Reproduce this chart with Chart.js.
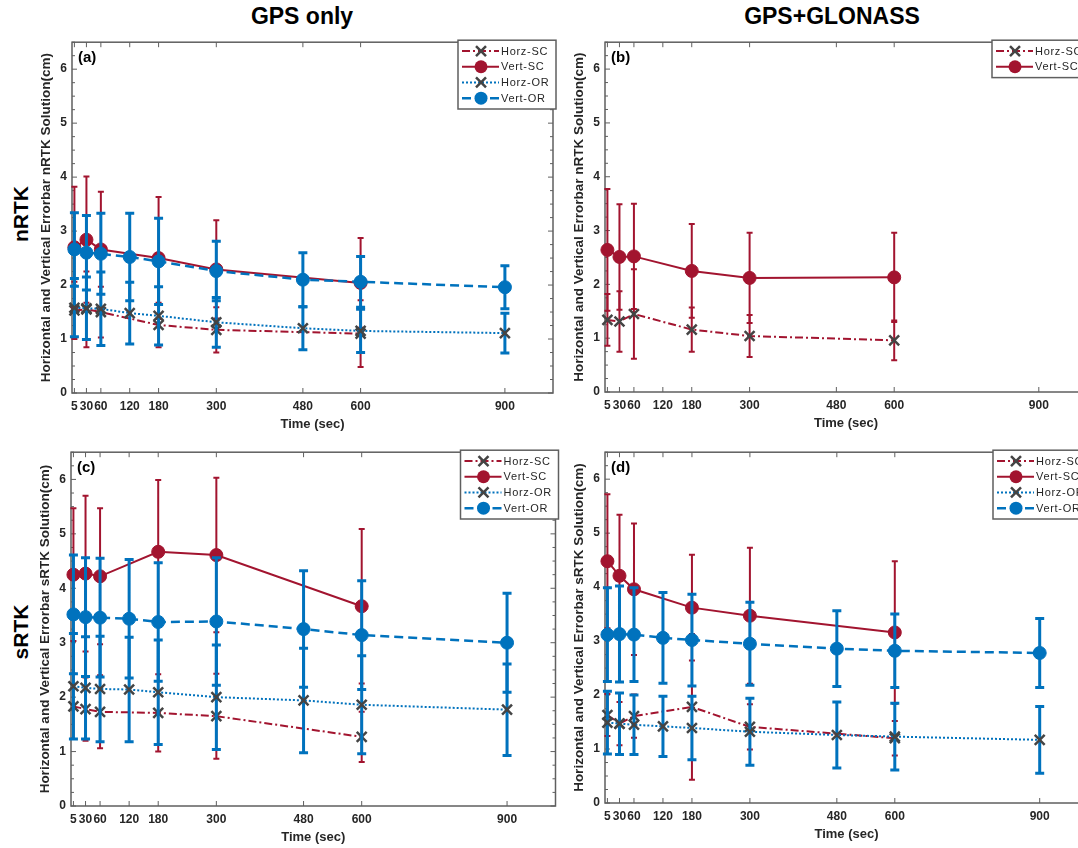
<!DOCTYPE html>
<html>
<head>
<meta charset="utf-8">
<script src="https://cdn.jsdelivr.net/npm/chart.js@4.4.1/dist/chart.umd.min.js"></script>
<style>
  html, body { margin: 0; padding: 0; width: 1078px; height: 848px; overflow: hidden; background: #fff; }
  canvas { position: absolute; }
  .col-title {
    position: absolute; transform: translateX(-50%); white-space: nowrap;
    font-family: "Liberation Sans Narrow", "Liberation Sans", Arial, sans-serif;
    font-weight: bold; font-size: 23px; color: #000;
  }
  .row-title {
    position: absolute; transform: translate(-50%, -50%) rotate(-90deg); white-space: nowrap;
    font-family: "Liberation Sans", Arial, sans-serif; font-weight: bold; font-size: 21px; color: #000;
  }
</style>
</head>
<body>
<div class="col-title" style="left:302px; top:3px;">GPS only</div>
<div class="col-title" style="left:832px; top:3px;">GPS+GLONASS</div>
<div class="row-title" style="left:21px; top:214px;">nRTK</div>
<div class="row-title" style="left:21px; top:632px;">sRTK</div>

<canvas id="chartA" width="565" height="415" style="left:0px; top:30px;"></canvas>
<canvas id="chartB" width="565" height="415" style="left:540px; top:30px;"></canvas>
<canvas id="chartC" width="565" height="415" style="left:0px; top:440px;"></canvas>
<canvas id="chartD" width="565" height="415" style="left:540px; top:440px;"></canvas>

<script>
// 观测时长 (sec)
const TIMES_SC = [5, 30, 60, 180, 300, 600];
const TIMES_OR = [5, 30, 60, 120, 180, 300, 480, 600, 900];
const X_TICKS = [5, 30, 60, 120, 180, 300, 480, 600, 900];
const Y_TICKS = [0, 1, 2, 3, 4, 5, 6];

// (a) nRTK, GPS only
const A_HORZ_SC = [1.53, 1.55, 1.50, 1.26, 1.17, 1.10];
const A_HORZ_SC_ERR = [0.53, 0.70, 0.47, 0.41, 0.42, 0.62];
const A_VERT_SC = [2.70, 2.84, 2.66, 2.50, 2.29, 2.04];
const A_VERT_SC_ERR = [1.12, 1.17, 1.07, 1.13, 0.91, 0.83];
const A_HORZ_OR = [1.58, 1.57, 1.56, 1.48, 1.43, 1.31, 1.20, 1.15, 1.11];
const A_HORZ_OR_ERR = [0.54, 0.58, 0.68, 0.57, 0.54, 0.46, 0.40, 0.40, 0.37];
const A_VERT_OR = [2.66, 2.60, 2.58, 2.52, 2.44, 2.26, 2.10, 2.06, 1.96];
const A_VERT_OR_ERR = [0.68, 0.69, 0.75, 0.81, 0.80, 0.55, 0.50, 0.47, 0.40];

// (b) nRTK, GPS+GLONASS
const B_HORZ_SC = [1.34, 1.31, 1.45, 1.16, 1.04, 0.96];
const B_HORZ_SC_ERR = [0.48, 0.56, 0.83, 0.41, 0.39, 0.37];
const B_VERT_SC = [2.64, 2.51, 2.52, 2.25, 2.12, 2.13];
const B_VERT_SC_ERR = [1.13, 0.98, 0.98, 0.87, 0.84, 0.83];

// (c) sRTK, GPS only
const C_HORZ_SC = [1.83, 1.78, 1.73, 1.71, 1.65, 1.27];
const C_HORZ_SC_ERR = [0.60, 0.58, 0.67, 0.71, 0.78, 0.46];
const C_VERT_SC = [4.25, 4.27, 4.22, 4.67, 4.61, 3.67];
const C_VERT_SC_ERR = [1.22, 1.43, 1.25, 1.32, 1.42, 1.42];
const C_HORZ_OR = [2.20, 2.17, 2.15, 2.14, 2.09, 2.00, 1.94, 1.86, 1.77];
const C_HORZ_OR_ERR = [0.97, 0.94, 0.97, 0.96, 0.96, 0.96, 0.96, 0.90, 0.84];
const C_VERT_OR = [3.52, 3.47, 3.46, 3.44, 3.38, 3.39, 3.25, 3.14, 3.00];
const C_VERT_OR_ERR = [1.09, 1.09, 1.09, 1.09, 1.09, 1.17, 1.07, 1.00, 0.91];

// (d) sRTK, GPS+GLONASS
const D_HORZ_SC = [1.63, 1.47, 1.61, 1.78, 1.41, 1.20];
const D_HORZ_SC_ERR = [0.39, 0.40, 0.40, 1.35, 0.42, 0.32];
const D_VERT_SC = [4.48, 4.21, 3.96, 3.62, 3.47, 3.16];
const D_VERT_SC_ERR = [1.24, 1.13, 1.22, 0.98, 1.26, 1.32];
const D_HORZ_OR = [1.49, 1.47, 1.45, 1.42, 1.39, 1.32, 1.26, 1.23, 1.17];
const D_HORZ_OR_ERR = [0.58, 0.57, 0.55, 0.56, 0.59, 0.62, 0.61, 0.62, 0.62];
const D_VERT_OR = [3.12, 3.13, 3.12, 3.06, 3.02, 2.95, 2.86, 2.82, 2.78];
const D_VERT_OR_ERR = [0.87, 0.89, 0.87, 0.84, 0.85, 0.77, 0.70, 0.68, 0.64];

const RED = '#A2142F';
const BLUE = '#0072BD';
const MARKER_GRAY = '#444444';
const AXIS_COLOR = '#5f5f5f';
const TEXT_COLOR = '#262626';
const FONT_FAMILY = '"Liberation Sans", Arial, sans-serif';

const SERIES_STYLE = {
    'Horz-SC': { color: RED,  dash: [8, 3, 2, 3], width: 2,   marker: 'x', barWidth: 2,   cap: 3 },
    'Vert-SC': { color: RED,  dash: [],           width: 2,   marker: 'o', barWidth: 2,   cap: 3 },
    'Horz-OR': { color: BLUE, dash: [2, 2],       width: 2,   marker: 'x', barWidth: 3,   cap: 4.5 },
    'Vert-OR': { color: BLUE, dash: [9, 5],       width: 2.5, marker: 'o', barWidth: 3,   cap: 4.5 }
};

function makeDataset(label, times, values, errors, order) {
    const s = SERIES_STYLE[label];
    const isX = s.marker === 'x';
    return {
        label: label,
        data: times.map((t, i) => ({ x: t, y: values[i] })),
        errors: errors,
        borderColor: s.color,
        borderWidth: s.width,
        borderDash: s.dash,
        pointStyle: isX ? 'crossRot' : 'circle',
        pointRadius: isX ? 7 : 6.5,
        pointBorderWidth: isX ? 2.5 : 1,
        pointBorderColor: isX ? MARKER_GRAY : s.color,
        pointBackgroundColor: s.color,
        tension: 0,
        fill: false,
        clip: false,
        order: order
    };
}

// 误差棒：每个数据集绘制之前画，使标记压在误差棒上面
const errorBarPlugin = {
    id: 'errorBars',
    beforeDatasetDraw(chart, args) {
        const ds = chart.data.datasets[args.index];
        if (!ds.errors) return;
        const s = SERIES_STYLE[ds.label];
        const { ctx } = chart;
        const x = chart.scales.x, y = chart.scales.y;
        ctx.save();
        ctx.strokeStyle = s.color;
        ctx.lineWidth = s.barWidth;
        ctx.setLineDash([]);
        ctx.beginPath();
        ds.data.forEach((p, i) => {
            const px = x.getPixelForValue(p.x);
            const top = y.getPixelForValue(p.y + ds.errors[i]);
            const bot = y.getPixelForValue(p.y - ds.errors[i]);
            ctx.moveTo(px, top); ctx.lineTo(px, bot);
            ctx.moveTo(px - s.cap, top); ctx.lineTo(px + s.cap, top);
            ctx.moveTo(px - s.cap, bot); ctx.lineTo(px + s.cap, bot);
        });
        ctx.stroke();
        ctx.restore();
    }
};

// MATLAB 风格的坐标框和向内的刻度
const axesBoxPlugin = {
    id: 'axesBox',
    beforeDatasetsDraw(chart) {
        const { ctx, chartArea: a } = chart;
        const x = chart.scales.x, y = chart.scales.y;
        ctx.save();
        ctx.strokeStyle = AXIS_COLOR;
        ctx.lineWidth = 1.5;
        ctx.strokeRect(a.left, a.top, a.right - a.left, a.bottom - a.top);
        ctx.lineWidth = 1;
        ctx.beginPath();
        X_TICKS.forEach(v => {
            const px = x.getPixelForValue(v);
            ctx.moveTo(px, a.bottom); ctx.lineTo(px, a.bottom - 5);
            ctx.moveTo(px, a.top); ctx.lineTo(px, a.top + 5);
        });
        for (let k = 0; k <= 26; k++) {
            const v = k * 0.25;
            const py = y.getPixelForValue(v);
            const len = k % 4 === 0 ? 5 : 3;
            ctx.moveTo(a.left, py); ctx.lineTo(a.left + len, py);
            ctx.moveTo(a.right, py); ctx.lineTo(a.right - len, py);
        }
        ctx.stroke();
        ctx.restore();
    }
};

// 图内的图例框
const boxLegendPlugin = {
    id: 'boxLegend',
    afterDatasetsDraw(chart) {
        const { ctx, chartArea: a } = chart;
        const items = chart.data.datasets;
        const rowH = 15.7;
        const left = a.right - 95, top = a.top - 2;
        const w = 98, h = items.length * rowH + 6;
        ctx.save();
        ctx.fillStyle = '#fff';
        ctx.fillRect(left, top, w, h);
        ctx.strokeStyle = AXIS_COLOR;
        ctx.lineWidth = 1.5;
        ctx.strokeRect(left, top, w, h);
        items.forEach((ds, i) => {
            const s = SERIES_STYLE[ds.label];
            const cy = top + 3 + rowH * (i + 0.5);
            ctx.strokeStyle = s.color;
            ctx.lineWidth = s.width;
            ctx.setLineDash(s.dash);
            ctx.beginPath();
            ctx.moveTo(left + 4, cy); ctx.lineTo(left + 41, cy);
            ctx.stroke();
            ctx.setLineDash([]);
            const mx = left + 23;
            if (s.marker === 'x') {
                ctx.strokeStyle = MARKER_GRAY;
                ctx.lineWidth = 2.5;
                ctx.beginPath();
                ctx.moveTo(mx - 5, cy - 5); ctx.lineTo(mx + 5, cy + 5);
                ctx.moveTo(mx - 5, cy + 5); ctx.lineTo(mx + 5, cy - 5);
                ctx.stroke();
            } else {
                ctx.fillStyle = s.color;
                ctx.beginPath();
                ctx.arc(mx, cy, 6.5, 0, Math.PI * 2);
                ctx.fill();
            }
            ctx.fillStyle = TEXT_COLOR;
            ctx.font = '11px ' + FONT_FAMILY;
            ctx.textBaseline = 'middle';
            ctx.textAlign = 'left';
            ctx.letterSpacing = '0.7px';
            ctx.fillText(ds.label, left + 43, cy + 0.5);
        });
        ctx.restore();
    }
};

// 左上角的 (a)(b)(c)(d)
const panelTagPlugin = {
    id: 'panelTag',
    afterDatasetsDraw(chart, args, opts) {
        const { ctx, chartArea: a } = chart;
        ctx.save();
        ctx.fillStyle = '#000';
        ctx.font = 'bold 15px ' + FONT_FAMILY;
        ctx.textBaseline = 'alphabetic';
        ctx.fillText(opts.text, a.left + 6, a.top + 20);
        ctx.restore();
    }
};

function createPanel(canvasId, tag, yTitle, datasets, padding) {
    const ctx = document.getElementById(canvasId).getContext('2d');
    return new Chart(ctx, {
        type: 'line',
        data: { datasets: datasets },
        options: {
            responsive: false,
            animation: false,
            layout: { padding: padding },
            scales: {
                x: {
                    type: 'linear',
                    min: 0,
                    max: 1000,
                    afterBuildTicks: scale => { scale.ticks = X_TICKS.map(v => ({ value: v })); },
                    afterFit: scale => { scale.height = 40; },
                    grid: { display: false, drawTicks: false },
                    border: { display: false },
                    ticks: {
                        autoSkip: false, maxRotation: 0, minRotation: 0, padding: 6,
                        color: TEXT_COLOR, font: { family: FONT_FAMILY, size: 12, weight: 'bold' }
                    },
                    title: {
                        display: true, text: 'Time (sec)', color: TEXT_COLOR,
                        padding: { top: 0, bottom: 1 },
                        font: { family: FONT_FAMILY, size: 13, weight: 'bold' }
                    }
                },
                y: {
                    type: 'linear',
                    min: 0,
                    max: 6.5,
                    afterBuildTicks: scale => { scale.ticks = Y_TICKS.map(v => ({ value: v })); },
                    afterFit: scale => { scale.width = 36; },
                    grid: { display: false, drawTicks: false },
                    border: { display: false },
                    ticks: {
                        padding: 5,
                        color: TEXT_COLOR, font: { family: FONT_FAMILY, size: 12, weight: 'bold' }
                    },
                    title: {
                        display: true, text: yTitle, color: TEXT_COLOR,
                        padding: { top: 2, bottom: 0 },
                        font: { family: FONT_FAMILY, size: 13.5, weight: 'bold' }
                    }
                }
            },
            plugins: {
                legend: { display: false },
                tooltip: { enabled: false },
                panelTag: { text: tag }
            }
        },
        plugins: [axesBoxPlugin, errorBarPlugin, boxLegendPlugin, panelTagPlugin]
    });
}

const N_TITLE = 'Horizontal and Vertical Errorbar nRTK Solution(cm)';
const S_TITLE = 'Horizontal and Vertical Errorbar sRTK Solution(cm)';

createPanel('chartA', '(a)', N_TITLE, [
    makeDataset('Horz-SC', TIMES_SC, A_HORZ_SC, A_HORZ_SC_ERR, 4),
    makeDataset('Vert-SC', TIMES_SC, A_VERT_SC, A_VERT_SC_ERR, 3),
    makeDataset('Horz-OR', TIMES_OR, A_HORZ_OR, A_HORZ_OR_ERR, 2),
    makeDataset('Vert-OR', TIMES_OR, A_VERT_OR, A_VERT_OR_ERR, 1)
], { left: 36, top: 10, right: 12, bottom: 12 });

createPanel('chartB', '(b)', N_TITLE, [
    makeDataset('Horz-SC', TIMES_SC, B_HORZ_SC, B_HORZ_SC_ERR, 4),
    makeDataset('Vert-SC', TIMES_SC, B_VERT_SC, B_VERT_SC_ERR, 3)
], { left: 29, top: 11, right: 18, bottom: 13 });

createPanel('chartC', '(c)', S_TITLE, [
    makeDataset('Horz-SC', TIMES_SC, C_HORZ_SC, C_HORZ_SC_ERR, 4),
    makeDataset('Vert-SC', TIMES_SC, C_VERT_SC, C_VERT_SC_ERR, 3),
    makeDataset('Horz-OR', TIMES_OR, C_HORZ_OR, C_HORZ_OR_ERR, 2),
    makeDataset('Vert-OR', TIMES_OR, C_VERT_OR, C_VERT_OR_ERR, 1)
], { left: 35, top: 8, right: 8, bottom: 9 });

createPanel('chartD', '(d)', S_TITLE, [
    makeDataset('Horz-SC', TIMES_SC, D_HORZ_SC, D_HORZ_SC_ERR, 4),
    makeDataset('Vert-SC', TIMES_SC, D_VERT_SC, D_VERT_SC_ERR, 3),
    makeDataset('Horz-OR', TIMES_OR, D_HORZ_OR, D_HORZ_OR_ERR, 2),
    makeDataset('Vert-OR', TIMES_OR, D_VERT_OR, D_VERT_OR_ERR, 1)
], { left: 29, top: 10, right: 17, bottom: 12 });
</script>
</body>
</html>
